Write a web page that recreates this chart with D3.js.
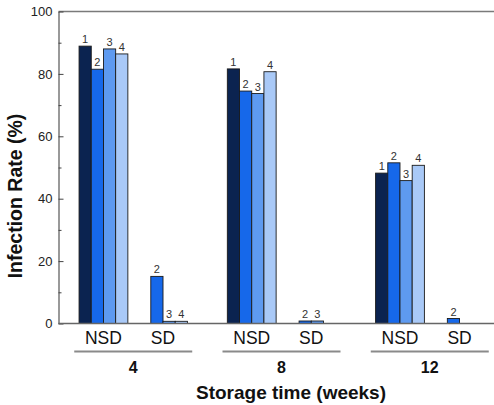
<!DOCTYPE html>
<html><head><meta charset="utf-8">
<script src="https://cdn.jsdelivr.net/npm/d3@7"></script>
<style>body{margin:0;background:#fff}svg{display:block;font-family:Arial,"Liberation Sans",sans-serif}</style>
</head><body><svg id="c" width="494" height="405"></svg>
<script>
const weeks = ["4", "8", "12"];
const treatments = ["NSD", "SD"];
const seriesNames = ["1", "2", "3", "4"];
const nsdValues = [
  [88.9, 81.5, 88.0, 86.4],
  [81.6, 74.5, 73.7, 80.7],
  [48.2, 51.5, 45.8, 50.7]
];
const sdValues = [
  [null, 15.1, 0.7, 0.7],
  [null, 0.8, 0.8, null],
  [null, 1.6, null, null]
];
const yTicks = [0, 20, 40, 60, 80, 100];
const yMinorTicks = [10, 30, 50, 70, 90];
const colors = ["#0b2350", "#1668ea", "#5e9af0", "#a9c9f7"];

(function () {
const svg = d3.select("#c");
const mLeft = 58.5, mTop = 11.5, mBottom = 323.5, mRight = 494;
const y = d3.scaleLinear().domain([0, 100]).range([mBottom, mTop]);
const xWeek = d3.scaleBand().domain(weeks).range([59.1, 503.9]);
const xTreat = d3.scalePoint().domain(treatments).range([0, xWeek.bandwidth()]).padding(0.745);
const xSeries = d3.scaleBand().domain(seriesNames).range([-24.4, 24.4]);

const rows = [];
weeks.forEach((w, wi) => {
  [nsdValues[wi], sdValues[wi]].forEach((vals, ti) => {
    vals.forEach((v, si) => {
      if (v !== null) rows.push({w, t: treatments[ti], s: seriesNames[si], v, si});
    });
  });
});
const cx = d => xWeek(d.w) + xTreat(d.t);

svg.append("line").attr("x1", mLeft).attr("x2", mRight).attr("y1", mTop).attr("y2", mTop)
  .attr("stroke", "#7a7a7a").attr("stroke-width", 1.3);

svg.append("g").selectAll("rect").data(rows).join("rect")
  .attr("x", d => cx(d) + xSeries(d.s))
  .attr("width", xSeries.bandwidth())
  .attr("y", d => y(d.v))
  .attr("height", d => y(0) - y(d.v))
  .attr("fill", d => colors[d.si])
  .attr("stroke", "#1a1a1a").attr("stroke-width", 0.9);

svg.append("g").selectAll("text").data(rows).join("text")
  .attr("x", d => cx(d) + xSeries(d.s) + xSeries.bandwidth() / 2)
  .attr("y", d => y(d.v) - 3)
  .attr("text-anchor", "middle").attr("font-size", 11).attr("fill", "#333")
  .text(d => d.s);

const ya = svg.append("g").attr("transform", `translate(${mLeft},0)`)
  .call(d3.axisLeft(y).tickValues(yTicks).tickSizeInner(-5).tickSizeOuter(0).tickPadding(6));
ya.select(".domain").attr("stroke", "#555").attr("stroke-width", 1.2);
ya.selectAll(".tick line").attr("stroke", "#444");
ya.selectAll(".tick text").attr("font-size", 13).attr("fill", "#222").attr("font-family", "Arial, 'Liberation Sans', sans-serif");
const ym = svg.append("g").attr("transform", `translate(${mLeft},0)`)
  .call(d3.axisLeft(y).tickValues(yMinorTicks).tickSizeInner(-3).tickSizeOuter(0).tickFormat(""));
ym.select(".domain").remove();
ym.selectAll(".tick line").attr("stroke", "#444");

svg.append("line").attr("x1", mLeft).attr("x2", mRight).attr("y1", mBottom).attr("y2", mBottom)
  .attr("stroke", "#666").attr("stroke-width", 1.3);

const cats = [];
weeks.forEach(w => treatments.forEach(t => cats.push({w, t})));
svg.append("g").selectAll("text").data(cats).join("text")
  .attr("x", d => cx(d)).attr("y", 344)
  .attr("text-anchor", "middle").attr("font-size", 17.5).attr("fill", "#111")
  .text(d => d.t);

svg.append("g").selectAll("line").data(weeks).join("line")
  .attr("x1", w => xWeek(w) + xWeek.bandwidth() / 2 - 59)
  .attr("x2", w => xWeek(w) + xWeek.bandwidth() / 2 + 59)
  .attr("y1", 351.5).attr("y2", 351.5)
  .attr("stroke", "#8a8a8a").attr("stroke-width", 2);
svg.append("g").selectAll("text").data(weeks).join("text")
  .attr("x", w => xWeek(w) + xWeek.bandwidth() / 2).attr("y", 373)
  .attr("text-anchor", "middle").attr("font-size", 16).attr("font-weight", "bold").attr("fill", "#111")
  .text(w => w);

svg.append("text").attr("x", 291).attr("y", 399)
  .attr("text-anchor", "middle").attr("font-size", 19).attr("font-weight", "bold").attr("fill", "#111")
  .text("Storage time (weeks)");
svg.append("text").attr("transform", "translate(22,196) rotate(-90)")
  .attr("text-anchor", "middle").attr("font-size", 19.5).attr("font-weight", "bold").attr("fill", "#111")
  .text("Infection Rate (%)");
})();
</script></body></html>
